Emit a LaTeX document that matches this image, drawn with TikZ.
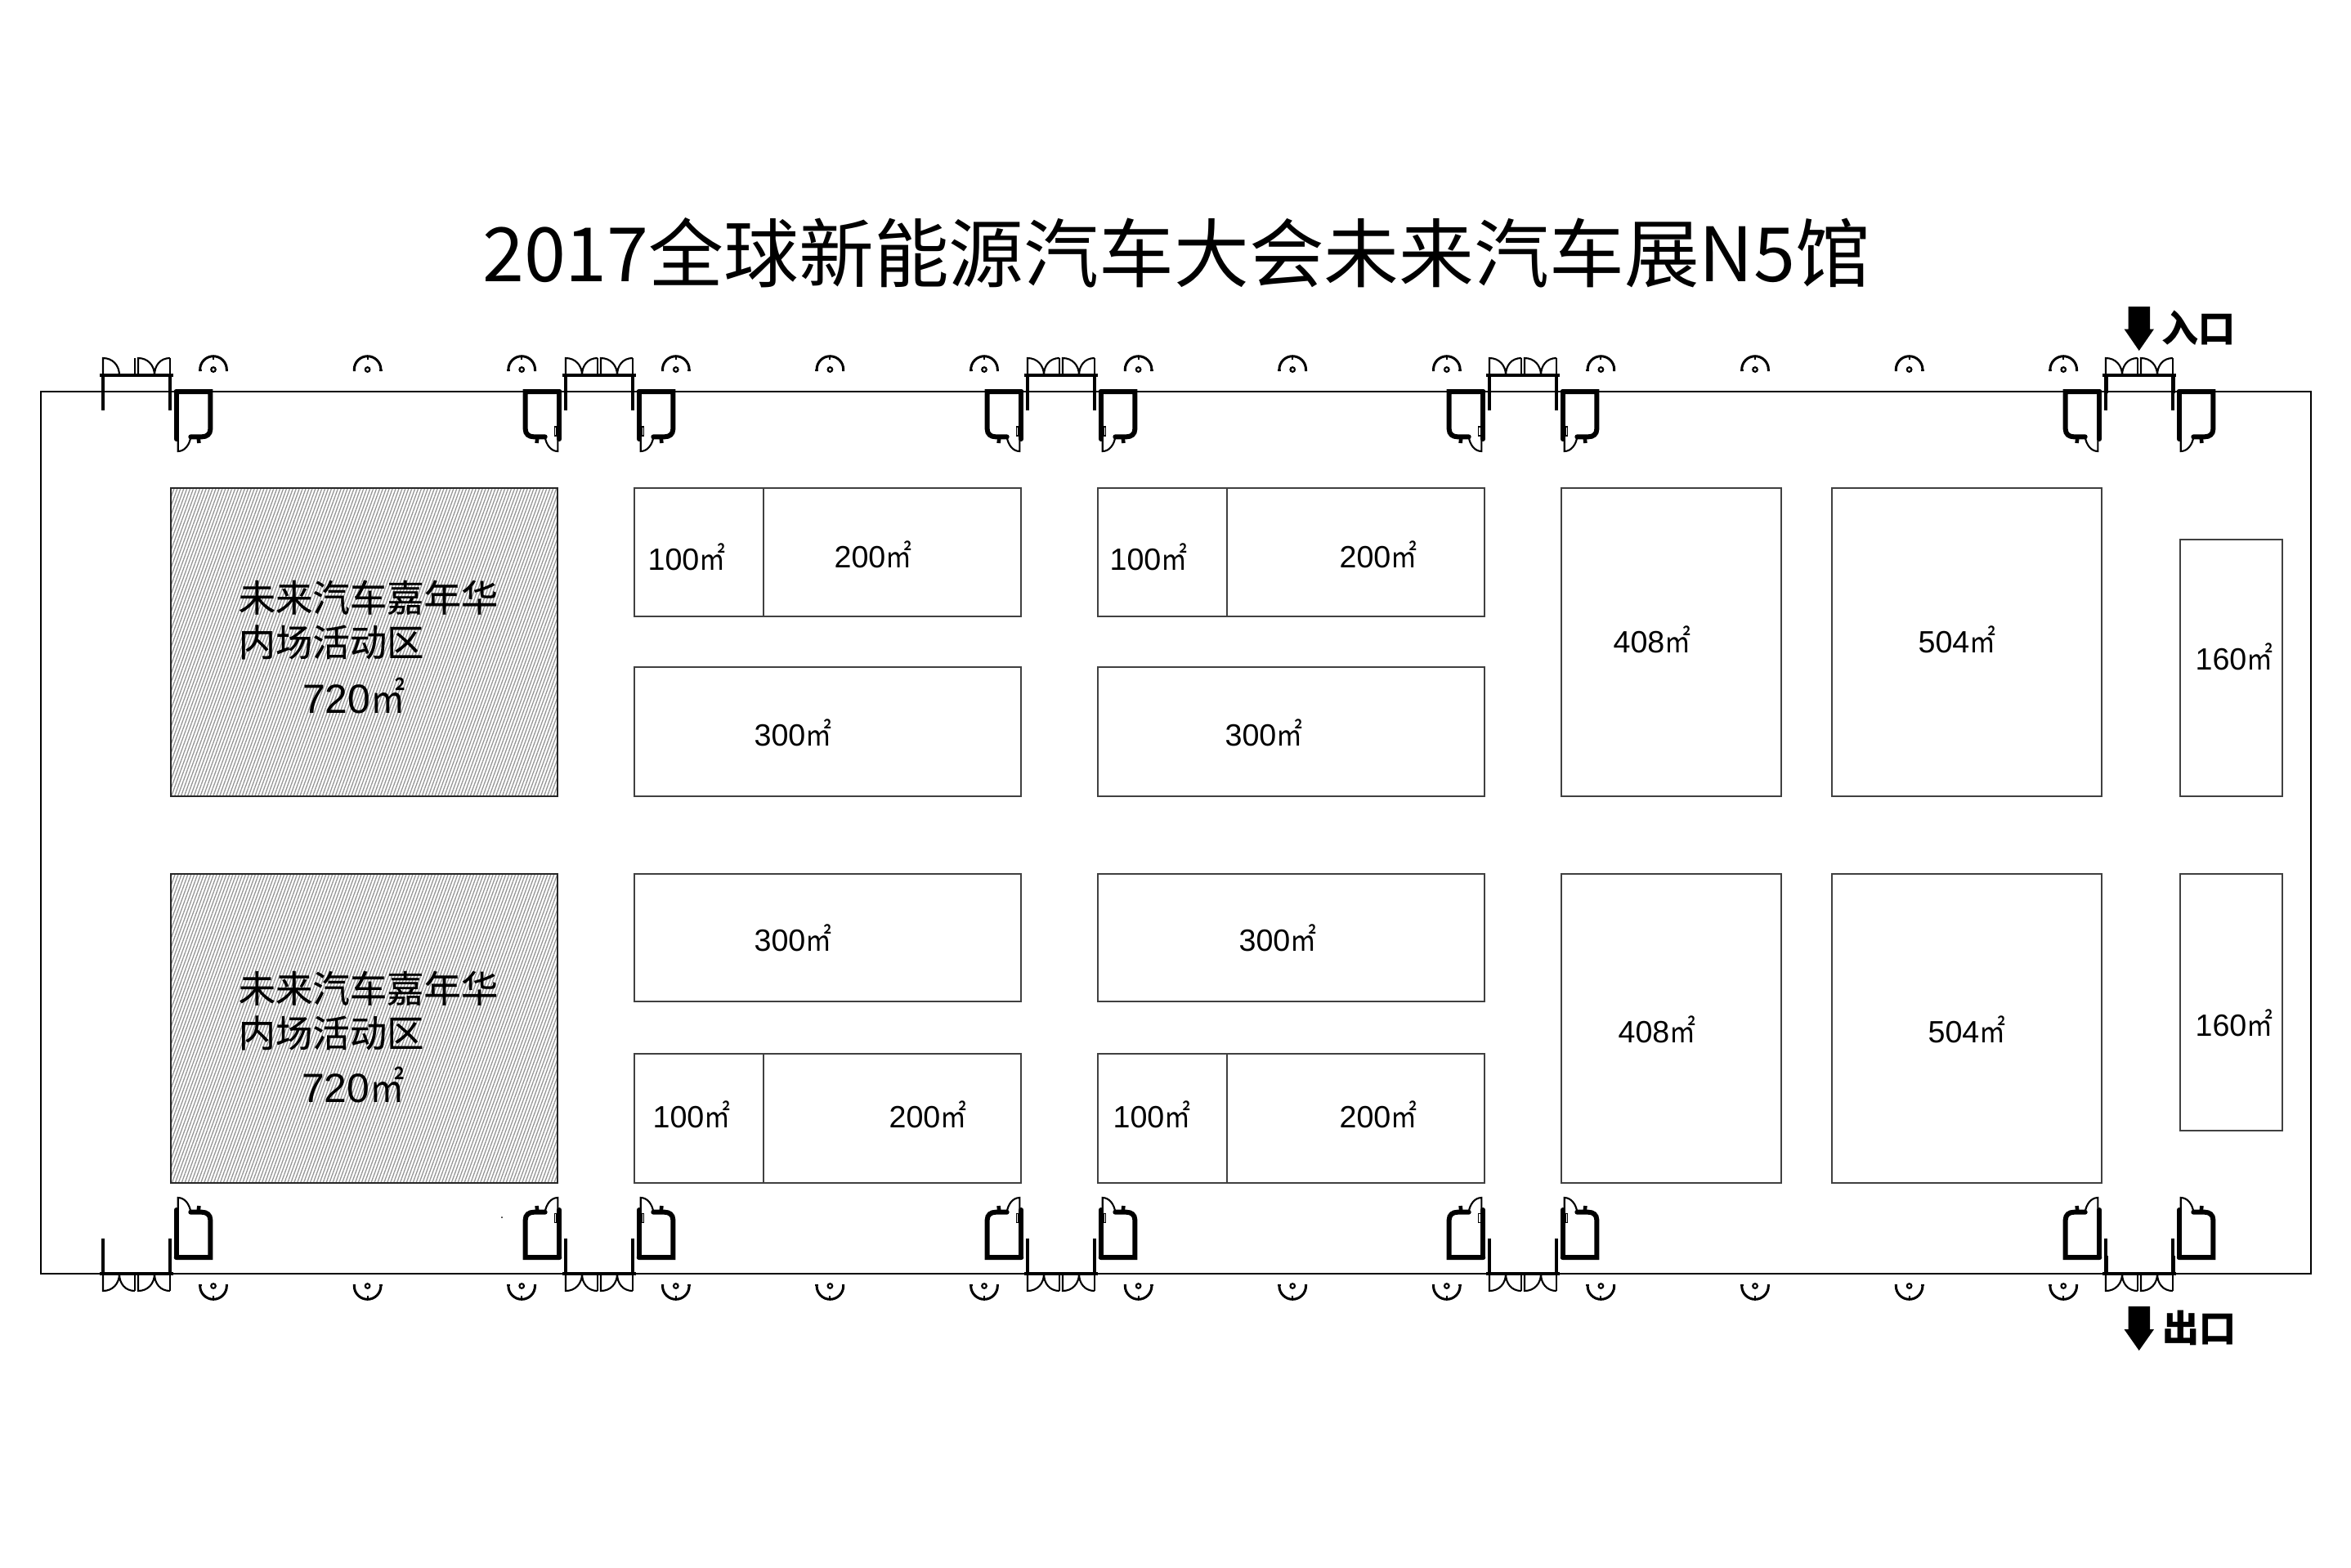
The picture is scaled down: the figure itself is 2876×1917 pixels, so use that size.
\documentclass[tikz,border=0pt]{standalone}
\usepackage{fontspec}
\setmainfont{Liberation Sans}
\newfontfamily\cjk{Noto Sans CJK SC}
\newfontfamily\cjkzone[FakeBold=0.35]{Noto Sans CJK SC}
\usetikzlibrary{patterns.meta}
\newcommand{\sqm}{{\cjk\scalebox{0.85}[1]{㎡}}}
\tikzset{
  hall/.style={draw,line width=0.7pt},
  booth/.style={draw=black!75,line width=0.45pt},
  hatched/.style={draw=black!85,line width=0.6pt,pattern={Lines[angle=70,distance=1.05pt,line width=0.36pt]},pattern color=black!42},
  wcwall/.style={line width=1.7pt,line cap=round},
  leaf/.style={line width=0.6pt},
  area/.style={font=\fontsize{10.7}{12}\selectfont,inner sep=0pt},
  bigarea/.style={font=\fontsize{14.2}{16}\selectfont,inner sep=0pt},
  zone/.style={font=\cjkzone\fontsize{12.9}{15.5}\selectfont,inner sep=0pt,align=left},
  gate/.style={font=\cjk\bfseries\fontsize{12.8}{15}\selectfont,inner sep=0pt},
  pics/doorframe/.style={code={
    \draw[line width=1.4pt] (-4,-20) -- (86,-20);
    \draw[line width=1.4pt] (0,-20) -- (0,2) (82,-20) -- (82,2);
    \draw[line width=0.9pt] (0,2) -- (0,23) (82,2) -- (82,23);
    \draw[leaf] (0,-20) -- (0,-41) .. controls (12,-41) and (20,-32) .. (20,-20);
    \draw[leaf] (39,-20) -- (39,-41);
    \draw[leaf] (43,-20) -- (43,-41) .. controls (55,-41) and (63,-32) .. (63,-20);
    \draw[leaf] (82,-41) .. controls (70,-41) and (63,-32) .. (63,-20);
    \draw[leaf] (82,-20) -- (82,-41);
  }},
  pics/innerleaf/.style={code={
    \draw[leaf] (39,-41) .. controls (27,-41) and (20,-32) .. (20,-20);
  }},
  pics/wcblock/.style={code={
    \draw[wcwall] (1.7,0) -- (43.3,0) -- (43.3,46) .. controls (43.3,52) and (39,55.3) .. (33,55.3) -- (19.3,55.3);
    \draw[wcwall] (1.7,0) -- (1.7,58);
    \draw[leaf] (3.7,58) -- (3.7,73) .. controls (12,73) and (18,65) .. (19.3,55.3);
    \draw[line width=1.3pt] (28.6,55.3) -- (29.4,63);
  }},
  pics/wcmark/.style={code={
    \draw[line width=0.3pt] (5,43) rectangle (7.5,54);
  }},
  pics/peg/.style={code={
    \draw[line width=0.85pt] (-16.3,2) -- (-16.3,0) arc[start angle=180,end angle=360,radius=16.3] -- (16.3,2);
    \draw[line width=0.55pt] (-18,1) -- (-14.5,1) (14.5,1) -- (18,1) (0,-16) -- (0,-12);
    \draw[line width=0.6pt] (0,0) circle (2.8);
  }}
}
\begin{document}
\begin{tikzpicture}[x=0.01cm,y=-0.01cm]
\useasboundingbox[fill=white] (0,0) rectangle (2876,1917);
\node[font=\cjk\fontsize{26.1}{29}\selectfont,inner sep=0pt] (title) at (1439,309) {2017全球新能源汽车大会未来汽车展N5馆};
\draw[hall] (50,479) rectangle (2827,1558);
\draw[hatched] (209,597) rectangle (682,974);
\draw[hatched] (209,1069) rectangle (682,1447);
\foreach \l/\d/\r in {776/934/1249,1343/1501/1816}
{
  \draw[booth] (\l,597) rectangle (\r,754);
  \draw[booth] (\d,597) -- (\d,754);
  \draw[booth] (\l,816) rectangle (\r,974);
  \draw[booth] (\l,1069) rectangle (\r,1225);
  \draw[booth] (\l,1289) rectangle (\r,1447);
  \draw[booth] (\d,1289) -- (\d,1447);
}
\foreach \t/\b in {597/974,1069/1447}
{
  \draw[booth] (1910,\t) rectangle (2179,\b);
  \draw[booth] (2241,\t) rectangle (2571,\b);
}
\draw[booth] (2667,660) rectangle (2792,974);
\draw[booth] (2667,1069) rectangle (2792,1383);
\node[zone,anchor=north west] (zonetop) at (291,709) {未来汽车嘉年华\\内场活动区};
\node[bigarea] (bigtop) at (433,851) {720\sqm};
\node[zone,anchor=north west] (zonelow) at (291,1187) {未来汽车嘉年华\\内场活动区};
\node[bigarea] (biglow) at (432,1327) {720\sqm};
\foreach \n/\x/\y/\t in {a/840/681/100,b/1068/678/200,c/1405/681/100,d/1686/678/200,e/970/896/300,f/1546/896/300,
  g/970/1147/300,h/1563/1147/300,i/846/1363/100,j/1135/1363/200,k/1409/1363/100,l/1686/1363/200,
  m/2021/782/408,o/2394/782/504,p/2733/803/160,q/2027/1259/408,r/2406/1259/504,s/2733/1251/160}
{
  \node[area] (lab\n) at (\x,\y) {\t\sqm};
}
\foreach \x in {126,692,1257,1822,2576}
{
  \pic at (\x,479) {doorframe};
  \pic at (\x+88,479) {wcblock};
}
\foreach \x in {692,1257,1822}
{
  \pic at (\x,479) {innerleaf};
  \pic at (\x+88,479) {wcmark};
  \pic[xscale=-1] at (\x-6,479) {wcblock};
  \pic[xscale=-1] at (\x-6,479) {wcmark};
}
\pic at (2576,479) {innerleaf};
\pic[xscale=-1] at (2570,479) {wcblock};
\begin{scope}[shift={(0,2017)},yscale=-1,transform shape]
\foreach \x in {126,692,1257,1822,2576}
{
  \pic at (\x,479) {doorframe};
  \pic at (\x,479) {innerleaf};
  \pic at (\x+88,479) {wcblock};
}
\foreach \x in {692,1257,1822}
{
  \pic at (\x+88,479) {wcmark};
  \pic[xscale=-1] at (\x-6,479) {wcblock};
  \pic[xscale=-1] at (\x-6,479) {wcmark};
}
\pic[xscale=-1] at (2570,479) {wcblock};
\end{scope}
\foreach \k in {0,...,12}
{
  \pic at (261+188.6*\k,452) {peg};
  \pic[yscale=-1] at (261+188.6*\k,1573) {peg};
}
\fill (2603.5,375) -- (2630,375) -- (2630,402.5) -- (2635,402.5) -- (2616.7,429) -- (2598.5,402.5) -- (2603.5,402.5) -- cycle;
\fill (2603.5,1598) -- (2630,1598) -- (2630,1626) -- (2635,1626) -- (2616.7,1652) -- (2598.5,1626) -- (2603.5,1626) -- cycle;
\node[gate] (enter) at (2689,401) {入口};
\node[gate] (leave) at (2690,1624) {出口};
\fill (614,1489) circle (1);
\end{tikzpicture}
\end{document}
